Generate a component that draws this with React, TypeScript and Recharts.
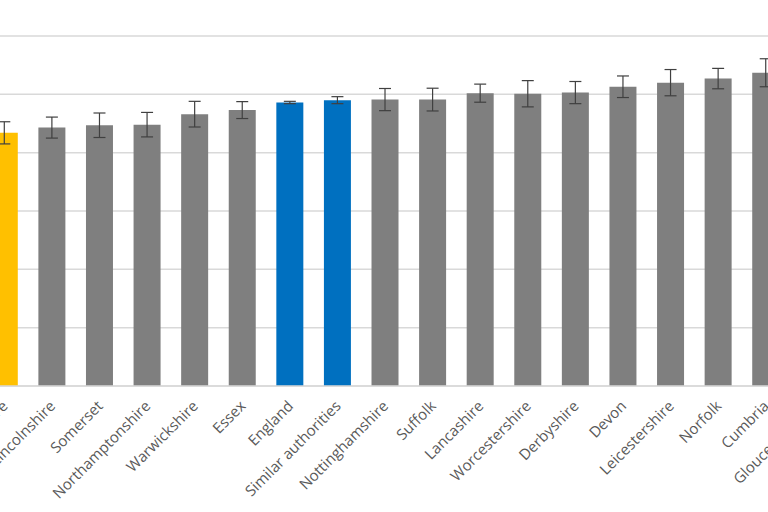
import React from "react";
import { BarChart, Bar, XAxis, YAxis, CartesianGrid, ErrorBar, Cell } from "recharts";

const categories = [
  "Staffordshire",
  "Lincolnshire",
  "Somerset",
  "Northamptonshire",
  "Warwickshire",
  "Essex",
  "England",
  "Similar authorities",
  "Nottinghamshire",
  "Suffolk",
  "Lancashire",
  "Worcestershire",
  "Derbyshire",
  "Devon",
  "Leicestershire",
  "Norfolk",
  "Cumbria",
  "Gloucestershire",
];
const values = [43.4, 44.3, 44.7, 44.8, 46.6, 47.3, 48.6, 49.0, 49.1, 49.1, 50.2, 50.1, 50.3, 51.3, 52.0, 52.7, 53.7, 54.3];
const errors = [1.9, 1.8, 2.1, 2.1, 2.2, 1.45, 0.2, 0.6, 1.9, 1.95, 1.55, 2.25, 1.9, 1.85, 2.25, 1.75, 2.4, 2.0];
const colors = [
  "#ffc000", "#7f7f7f", "#7f7f7f", "#7f7f7f", "#7f7f7f", "#7f7f7f",
  "#0070c0", "#0070c0", "#7f7f7f", "#7f7f7f", "#7f7f7f", "#7f7f7f",
  "#7f7f7f", "#7f7f7f", "#7f7f7f", "#7f7f7f", "#7f7f7f", "#7f7f7f",
];
const yTicks = [0, 10, 20, 30, 40, 50, 60];

const data = categories.map((name, i) => ({ name, value: values[i], err: errors[i] }));

const Tick = (props: any) => {
  const { x, y, payload } = props;
  return (
    <g transform={`translate(${x + 4},${y + 21})`}>
      <text
        x={0}
        y={0}
        textAnchor="end"
        transform="rotate(-45)"
        fill="#595959"
        fontSize={15}
        fontFamily="'Open Sans', sans-serif"
      >
        {payload.value}
      </text>
    </g>
  );
};

export default function App() {
  return (
    <div style={{ position: "absolute", left: 0, top: 0, width: 768, height: 512, overflow: "hidden", background: "#fff" }}>
      <div style={{ position: "absolute", left: -100, top: 0 }}>
        <BarChart
          width={968}
          height={512}
          data={data}
          margin={{ top: 36, right: 30.6, left: 80.8, bottom: 0 }}
        >
          <CartesianGrid vertical={false} stroke="#d9d9d9" strokeWidth={1.5} />
          <YAxis hide domain={[0, 60]} ticks={yTicks} />
          <XAxis
            dataKey="name"
            interval={0}
            height={126}
            tickLine={false}
            tickSize={0}
            tickMargin={0}
            stroke="#d9d9d9"
            strokeWidth={1.5}
            tick={<Tick />}
          />
          <Bar dataKey="value" barSize={27} isAnimationActive={false}>
            {data.map((d, i) => (
              <Cell key={d.name} fill={colors[i]} />
            ))}
            <ErrorBar dataKey="err" width={6} stroke="#404040" strokeWidth={1.2} />
          </Bar>
        </BarChart>
      </div>
    </div>
  );
}
